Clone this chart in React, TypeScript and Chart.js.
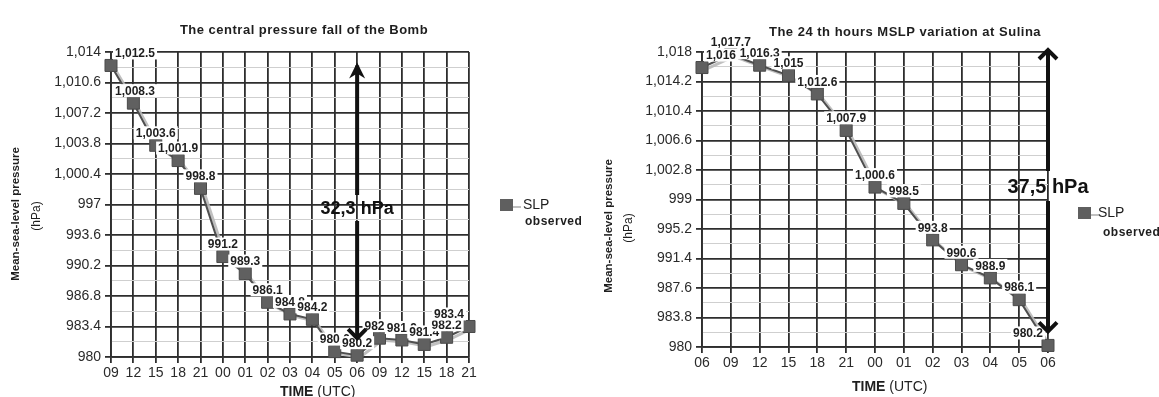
import React, { useEffect, useRef } from 'react';
import { Chart, registerables } from 'chart.js';

Chart.register(...registerables);

// ---- Left chart data ----
const leftLabels = ['09', '12', '15', '18', '21', '00', '01', '02', '03', '04', '05', '06', '09', '12', '15', '18', '21'];
const leftValues = [1012.5, 1008.3, 1003.6, 1001.9, 998.8, 991.2, 989.3, 986.1, 984.8, 984.2, 980.6, 980.2, 982.1, 981.9, 981.4, 982.2, 983.4];
const leftYTicks = [980, 983.4, 986.8, 990.2, 993.6, 997, 1000.4, 1003.8, 1007.2, 1010.6, 1014];

// ---- Right chart data ----
const rightLabels = ['06', '09', '12', '15', '18', '21', '00', '01', '02', '03', '04', '05', '06'];
const rightValues = [1016, 1017.7, 1016.3, 1015, 1012.6, 1007.9, 1000.6, 998.5, 993.8, 990.6, 988.9, 986.1, 980.2];
const rightYTicks = [980, 983.8, 987.6, 991.4, 995.2, 999, 1002.8, 1006.6, 1010.4, 1014.2, 1018];

const FONT = '"Liberation Sans", Arial, sans-serif';
const DARK = '#2e2e2e';

type Spec = {
  labels: string[];
  values: number[];
  yTicks: number[];
  title: string;
  titleX: number;
  titleY: number;
  yAxisW: number;
  xAxisH: number;
  padTop: number;
  padRight: number;
  yTitleX1: number;
  yTitleX2: number;
  yTitleY: number;
  xTitleX: number;
  xTitleY: number;
  legendX: number;
  legendY: number;
  legendTextX: number;
  legendObsX: number;
  legendObsY: number;
  arrowIndex: number;
  arrowTopPx: number | null;
  arrowTopOffset: number;
  arrowBottomOffset: number;
  arrowText: string;
  arrowTextY: number;
  arrowFont: string;
  arrowGap: number;
  filledTop: boolean;
};

const leftSpec: Spec = {
  labels: leftLabels,
  values: leftValues,
  yTicks: leftYTicks,
  title: 'The central pressure fall of the Bomb',
  titleX: 304,
  titleY: 30,
  yAxisW: 111,
  xAxisH: 40,
  padTop: 52,
  padRight: 121,
  yTitleX1: 16,
  yTitleX2: 37,
  yTitleY: 214,
  xTitleX: 280,
  xTitleY: 392,
  legendX: 500,
  legendY: 205,
  legendTextX: 523,
  legendObsX: 525,
  legendObsY: 222,
  arrowIndex: 11,
  arrowTopPx: null,
  arrowTopOffset: -3,
  arrowBottomOffset: -15,
  arrowText: '32,3 hPa',
  arrowTextY: 209,
  arrowFont: 'bold 18px ' + FONT,
  arrowGap: 14,
  filledTop: true,
};

const rightSpec: Spec = {
  labels: rightLabels,
  values: rightValues,
  yTicks: rightYTicks,
  title: 'The 24 th hours MSLP variation at Sulina',
  titleX: 315,
  titleY: 32,
  yAxisW: 112,
  xAxisH: 50,
  padTop: 52,
  padRight: 111,
  yTitleX1: 19,
  yTitleX2: 39,
  yTitleY: 226,
  xTitleX: 262,
  xTitleY: 387,
  legendX: 488,
  legendY: 213,
  legendTextX: 508,
  legendObsX: 513,
  legendObsY: 233,
  arrowIndex: 12,
  arrowTopPx: 48,
  arrowTopOffset: 0,
  arrowBottomOffset: -12,
  arrowText: '37,5 hPa',
  arrowTextY: 187,
  arrowFont: 'bold 20px ' + FONT,
  arrowGap: 16,
  filledTop: false,
};

const fmt = (v: number) => v.toLocaleString('en-US', { maximumFractionDigits: 1 });

function makeChart(canvas: HTMLCanvasElement, spec: Spec) {
  const fullTicks: number[] = [];
  spec.yTicks.forEach((v, i) => {
    fullTicks.push(v);
    if (i < spec.yTicks.length - 1) fullTicks.push((v + spec.yTicks[i + 1]) / 2);
  });

  const deco = {
    id: 'deco',
    beforeDraw(chart: any) {
      const ctx = chart.ctx;
      ctx.save();
      ctx.fillStyle = '#ffffff';
      ctx.fillRect(0, 0, chart.width, chart.height);
      ctx.restore();
    },
    beforeDatasetsDraw(chart: any) {
      const ctx = chart.ctx;
      const pts = chart.getDatasetMeta(0).data;
      ctx.save();
      ctx.strokeStyle = 'rgba(185,185,185,0.9)';
      ctx.lineWidth = 3;
      ctx.beginPath();
      pts.forEach((p: any, i: number) => {
        if (i === 0) ctx.moveTo(p.x + 3, p.y + 2);
        else ctx.lineTo(p.x + 3, p.y + 2);
      });
      ctx.stroke();
      ctx.restore();
    },
    afterDatasetsDraw(chart: any) {
      const ctx = chart.ctx;
      const area = chart.chartArea;
      const pts = chart.getDatasetMeta(0).data;
      ctx.save();
      ctx.font = 'bold 12px ' + FONT;
      ctx.textBaseline = 'middle';
      ctx.textAlign = 'left';
      pts.forEach((p: any, i: number) => {
        const t = fmt(spec.values[i]);
        const w = ctx.measureText(t).width;
        let x0 = p.x - w / 2;
        x0 = Math.max(area.left + 4, Math.min(area.right - 5 - w, x0));
        const yc = p.y - 12;
        ctx.fillStyle = '#ffffff';
        ctx.fillRect(x0 - 2, yc - 7, w + 4, 13);
        ctx.fillStyle = '#1e1e1e';
        ctx.fillText(t, x0, yc + 0.5);
      });
      ctx.restore();
    },
    afterDraw(chart: any) {
      const ctx = chart.ctx;
      const xs = chart.scales.x;
      const ys = chart.scales.y;
      ctx.save();
      // Title
      ctx.fillStyle = '#1e1e1e';
      ctx.font = 'bold 13px ' + FONT;
      (ctx as any).letterSpacing = '0.5px';
      ctx.textAlign = 'center';
      ctx.textBaseline = 'middle';
      ctx.fillText(spec.title, spec.titleX, spec.titleY);
      (ctx as any).letterSpacing = '0px';

      // Y axis title
      ctx.save();
      ctx.translate(spec.yTitleX1, spec.yTitleY);
      ctx.rotate(-Math.PI / 2);
      ctx.font = 'bold 11.5px ' + FONT;
      ctx.fillText('Mean-sea-level pressure', 0, 0);
      ctx.restore();
      ctx.save();
      ctx.translate(spec.yTitleX2, spec.yTitleY + 2);
      ctx.rotate(-Math.PI / 2);
      ctx.font = '12px ' + FONT;
      ctx.fillText('(hPa)', 0, 0);
      ctx.restore();

      // X axis title
      ctx.textAlign = 'left';
      ctx.font = 'bold 14px ' + FONT;
      ctx.fillText('TIME', spec.xTitleX, spec.xTitleY);
      const tw = ctx.measureText('TIME').width;
      ctx.font = '14px ' + FONT;
      ctx.fillText(' (UTC)', spec.xTitleX + tw, spec.xTitleY);

      // Legend
      ctx.fillStyle = 'rgba(185,185,185,0.9)';
      ctx.fillRect(spec.legendX + 12, spec.legendY + 1, 9, 2);
      ctx.fillStyle = '#5f5f5f';
      ctx.fillRect(spec.legendX, spec.legendY - 6, 13, 12);
      ctx.fillStyle = '#1e1e1e';
      ctx.font = '14px ' + FONT;
      ctx.fillText('SLP', spec.legendTextX, spec.legendY);
      ctx.font = 'bold 12px ' + FONT;
      (ctx as any).letterSpacing = '0.5px';
      ctx.fillText('observed', spec.legendObsX, spec.legendObsY);
      (ctx as any).letterSpacing = '0px';

      // Arrow
      const ax = xs.getPixelForValue(spec.arrowIndex);
      const maxV = Math.max(...spec.values);
      const minV = Math.min(...spec.values);
      const yTop = spec.arrowTopPx !== null ? spec.arrowTopPx : ys.getPixelForValue(maxV) + spec.arrowTopOffset;
      const yBot = ys.getPixelForValue(minV) + spec.arrowBottomOffset;
      ctx.strokeStyle = '#111';
      ctx.fillStyle = '#111';
      ctx.lineWidth = 4;
      ctx.beginPath();
      ctx.moveTo(ax, yTop + 3);
      ctx.lineTo(ax, spec.arrowTextY - spec.arrowGap);
      ctx.moveTo(ax, spec.arrowTextY + spec.arrowGap - 2);
      ctx.lineTo(ax, yBot - 3);
      ctx.stroke();
      if (spec.filledTop) {
        ctx.beginPath();
        ctx.moveTo(ax, yTop);
        ctx.lineTo(ax + 8, yTop + 16);
        ctx.lineTo(ax, yTop + 11);
        ctx.lineTo(ax - 8, yTop + 16);
        ctx.closePath();
        ctx.fill();
      } else {
        ctx.lineJoin = 'miter';
        ctx.beginPath();
        ctx.moveTo(ax - 9, yTop + 11);
        ctx.lineTo(ax, yTop + 2);
        ctx.lineTo(ax + 9, yTop + 11);
        ctx.stroke();
      }
      ctx.lineJoin = 'miter';
      ctx.beginPath();
      ctx.moveTo(ax - 9, yBot - 11);
      ctx.lineTo(ax, yBot - 2);
      ctx.lineTo(ax + 9, yBot - 11);
      ctx.stroke();
      ctx.fillStyle = '#111';
      ctx.font = spec.arrowFont;
      ctx.textAlign = 'center';
      ctx.fillText(spec.arrowText, ax, spec.arrowTextY);
      ctx.restore();
    },
  };

  return new Chart(canvas, {
    type: 'line',
    data: {
      labels: spec.labels,
      datasets: [
        {
          label: 'SLP observed',
          data: spec.values,
          borderColor: '#4f4f4f',
          borderWidth: 2,
          pointStyle: 'rect',
          pointRadius: 8.5,
          pointHoverRadius: 8.5,
          pointBackgroundColor: '#606060',
          pointBorderColor: '#4a4a4a',
          pointBorderWidth: 1,
          tension: 0,
          clip: false,
        } as any,
      ],
    },
    options: {
      animation: false,
      responsive: false,
      devicePixelRatio: 1,
      events: [],
      layout: { padding: { left: 0, top: spec.padTop, right: spec.padRight, bottom: 0 } },
      plugins: {
        legend: { display: false },
        tooltip: { enabled: false },
        title: { display: false },
      },
      scales: {
        x: {
          type: 'category',
          offset: false,
          grid: { color: DARK, lineWidth: 1.8, tickLength: 6, tickColor: DARK },
          border: { color: DARK, width: 1.8 },
          ticks: {
            autoSkip: false,
            maxRotation: 0,
            padding: 2,
            color: '#2a2a2a',
            font: { family: FONT, size: 14 },
          },
          afterFit: (s: any) => {
            s.height = spec.xAxisH;
          },
        },
        y: {
          type: 'linear',
          min: spec.yTicks[0],
          max: spec.yTicks[spec.yTicks.length - 1],
          afterBuildTicks: (s: any) => {
            s.ticks = fullTicks.map((v) => ({ value: v }));
          },
          afterFit: (s: any) => {
            s.width = spec.yAxisW;
          },
          grid: {
            color: (c: any) => (c.index % 2 === 0 ? DARK : '#cfcfcf'),
            lineWidth: (c: any) => (c.index % 2 === 0 ? 1.8 : 1),
            tickColor: (c: any) => (c.index % 2 === 0 ? DARK : 'rgba(0,0,0,0)'),
            tickLength: 6,
          },
          border: { color: DARK, width: 1.8 },
          ticks: {
            autoSkip: false,
            padding: 4,
            color: '#2a2a2a',
            font: { family: FONT, size: 14 },
            callback: (v: any, i: number) => (i % 2 === 0 ? fmt(Number(v)) : ''),
          },
        },
      },
    } as any,
    plugins: [deco],
  });
}

export default function App() {
  const leftRef = useRef<HTMLCanvasElement>(null);
  const rightRef = useRef<HTMLCanvasElement>(null);

  useEffect(() => {
    const a = makeChart(leftRef.current!, leftSpec);
    const b = makeChart(rightRef.current!, rightSpec);
    return () => {
      a.destroy();
      b.destroy();
    };
  }, []);

  return (
    <div style={{ position: 'absolute', left: 0, top: 0, width: 1159, height: 397, background: '#fff', overflow: 'hidden' }}>
      <canvas ref={leftRef} width={590} height={397} style={{ position: 'absolute', left: 0, top: 0, width: 590, height: 397 }} />
      <canvas ref={rightRef} width={569} height={397} style={{ position: 'absolute', left: 590, top: 0, width: 569, height: 397 }} />
    </div>
  );
}
